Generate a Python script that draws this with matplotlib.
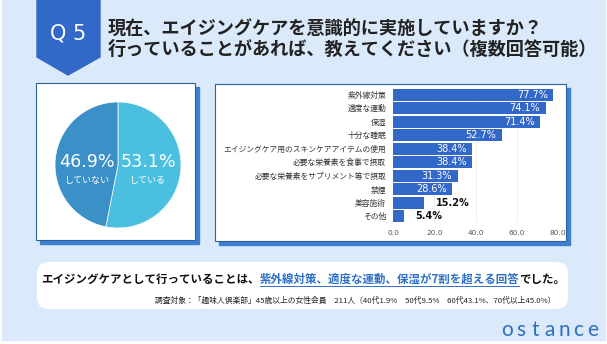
import matplotlib
matplotlib.use("Agg")
import matplotlib.pyplot as plt
from matplotlib.patches import Rectangle, Polygon, FancyBboxPatch

plt.rcParams['font.family'] = ['Noto Sans CJK JP', 'DejaVu Sans']

# survey data
items = ['紫外線対策', '適度な運動', '保湿', '十分な睡眠',
         'エイジングケア用のスキンケアアイテムの使用',
         '必要な栄養素を食事で摂取', '必要な栄養素をサプリメント等で摂取',
         '禁煙', '美容施術', 'その他']
rates = [77.7, 74.1, 71.4, 52.7, 38.4, 38.4, 31.3, 28.6, 15.2, 5.4]
x_ticks = [0, 20, 40, 60, 80]

pie_labels = ['している', 'していない']
pie_values = [53.1, 46.9]

title_lines = ['現在、エイジングケアを意識的に実施していますか？',
               '行っていることがあれば、教えてください（複数回答可能）']
summary_parts = ['エイジングケアとして行っていることは、',
                 '紫外線対策、適度な運動、保湿が7割を超える回答',
                 'でした。']
note = '調査対象：「趣味人倶楽部」45歳以上の女性会員　211人（40代1.9%　50代9.5%　60代43.1%、70代以上45.0%）'

BG = '#dbeafb'
BLUE = '#3268c8'
SHADOW = '#3d80d2'
EDGE = '#2c5f9c'

W, H = 607, 344
fig = plt.figure(figsize=(W / 100, H / 100), dpi=100)

# full-size canvas in pixel units (y down)
bg = fig.add_axes([0, 0, 1, 1], zorder=0)
bg.set_xlim(0, W)
bg.set_ylim(H, 0)
bg.axis('off')
bg.add_patch(Rectangle((2, 0), 603, 340, color=BG, zorder=0))

# Q5 badge
bg.add_patch(Polygon([(37, 0), (100, 0), (100, 57), (68, 75), (37, 57)],
                     closed=True, color=BLUE, zorder=1))
bg.text(68, 33, 'Q 5', color='white', fontsize=15, ha='center', va='center',
        family='DejaVu Sans')
bg.text(108, 29, title_lines[0], fontsize=13.1, fontweight='bold',
        color='#222222', va='center')
bg.text(108, 49, title_lines[1], fontsize=13.1, fontweight='bold',
        color='#222222', va='center')

# white panels with blue shadow
for x0, y0, x1, y1 in [(36, 83, 195, 240), (215, 84, 566, 241)]:
    bg.add_patch(Rectangle((x0 + 4, y0 + 4), x1 - x0, y1 - y0,
                           color=SHADOW, zorder=1))
    bg.add_patch(Rectangle((x0, y0), x1 - x0, y1 - y0, facecolor='white',
                           edgecolor=EDGE, linewidth=0.8, zorder=2))

# summary box
bg.add_patch(FancyBboxPatch((49, 274), 507, 23,
                            boxstyle='round,pad=12,rounding_size=12',
                            facecolor='white', edgecolor='none', zorder=1))

# pie
pax = fig.add_axes([55 / W, 1 - 228 / H, 126 / W, 126 / H], zorder=2)
pax.pie(pie_values, colors=['#4bbfe0', '#3b90c8'], startangle=90,
        counterclock=False, radius=1,
        wedgeprops=dict(edgecolor='white', linewidth=0.5))
pax.set_xlim(-1, 1)
pax.set_ylim(-1, 1)
for xpos, lab, val in [(0.48, pie_labels[0], pie_values[0]),
                       (-0.49, pie_labels[1], pie_values[1])]:
    pax.text(xpos, 0.05, f'{val}%', color='white', fontsize=12.6,
             ha='center', va='center', family='DejaVu Sans')
    pax.text(xpos, -0.24, lab, color='white', fontsize=6.5,
             ha='center', va='center')

# horizontal bars
bax = fig.add_axes([393 / W, 1 - 223 / H, 165 / W, 135 / H], zorder=2)
ypos = list(range(len(items)))
bax.barh(ypos, rates, height=0.88, color=BLUE, zorder=2)
bax.set_xlim(0, 80)
bax.set_ylim(len(items) - 0.5, -0.5)
bax.set_yticks(ypos)
bax.set_yticklabels(items, fontsize=5.6, color='#333333')
bax.set_xticks(x_ticks)
bax.set_xticklabels([f'{t:.1f}' for t in x_ticks], fontsize=5.3,
                    color='#555555', family='DejaVu Sans')
bax.tick_params(length=0, pad=5)
bax.tick_params(axis='y', pad=5)
bax.grid(axis='x', color='#eeeeee', linewidth=0.6, zorder=0)
for s in bax.spines.values():
    s.set_visible(False)
for y, v in zip(ypos, rates):
    if v >= 20:
        bax.annotate(f'{v}%', (v, y), xytext=(-4, 0), textcoords='offset points',
                     ha='right', va='center', color='white', fontsize=7,
                     family='DejaVu Sans')
    else:
        bax.annotate(f'{v}%', (v, y), xytext=(8, 0), textcoords='offset points',
                     ha='left', va='center', color='#111111', fontsize=7,
                     fontweight='bold', family='DejaVu Sans')

# summary sentence with highlighted middle part
fig.canvas.draw()
renderer = fig.canvas.get_renderer()
x = 41
colors = ['#111111', '#2f6fc6', '#111111']
for i, (part, c) in enumerate(zip(summary_parts, colors)):
    t = bg.text(x, 279, part, fontsize=8.25, fontweight='bold', color=c,
                va='center', zorder=3)
    bb = t.get_window_extent(renderer)
    if i == 1:
        bg.plot([x, x + bb.width], [285.5, 285.5], color=c, linewidth=0.7,
                zorder=3)
    x += bb.width

bg.text(555, 301, note, fontsize=5.6, color='#222222', ha='right',
        va='center', zorder=3)

# logo
for i, ch in enumerate('ostance'):
    bg.text(507 + i * 14.3, 330, ch, fontsize=15, color='#2f6fbf',
            ha='center', va='center', family='Lato', zorder=3)

fig.savefig('out.png', dpi=100)
